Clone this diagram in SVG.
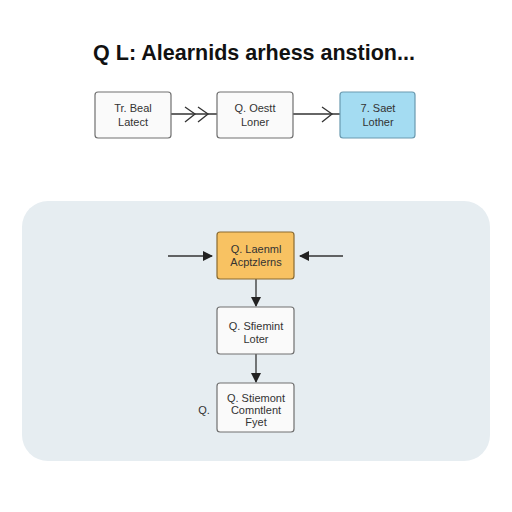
<svg xmlns="http://www.w3.org/2000/svg" width="512" height="512" viewBox="0 0 512 512">
<defs>
<style>
.t{font-family:"Liberation Sans",Arial,sans-serif;fill:#333;text-anchor:middle}
.n{font-size:11px}
.box{fill:#fafafa;stroke:#707070;stroke-width:1.2}
.c{stroke:#333;stroke-width:1.3;fill:none}
</style>
<marker id="ah" viewBox="0 0 10 10" refX="9" refY="5" markerWidth="10" markerHeight="10" markerUnits="userSpaceOnUse" orient="auto"><path d="M0,0 L10,5 L0,10 z" fill="#222"/></marker>
</defs>
<rect width="512" height="512" fill="#fff"/>
<text class="t" x="254" y="60" style="font-size:21.5px;font-weight:bold;fill:#111">Q L: Alearnids arhess anstion...</text>
<rect id="panel" x="22" y="201" width="468" height="260" rx="26" fill="#e6edf1"/>
<g id="connectors">
<line class="c" x1="171" y1="114" x2="217" y2="114"/>
<polyline class="c" points="185,107 195,114 185,122"/>
<polyline class="c" points="198,107 208,114 198,122"/>
<line class="c" x1="293" y1="114" x2="340" y2="114"/>
<polyline class="c" points="322,107 332,114 322,122"/>
<line class="c" x1="168" y1="256" x2="212" y2="256" marker-end="url(#ah)"/>
<line class="c" x1="343" y1="256" x2="300" y2="256" marker-end="url(#ah)"/>
<line class="c" x1="256" y1="279" x2="256" y2="306" marker-end="url(#ah)"/>
<line class="c" x1="256" y1="354" x2="256" y2="382" marker-end="url(#ah)"/>
</g>
<g id="n1"><rect class="box" x="95" y="92" width="76" height="46" rx="3"/><text class="t n" x="133" y="112">Tr. Beal</text><text class="t n" x="133" y="126">Latect</text></g>
<g id="n2"><rect class="box" x="217" y="92" width="76" height="46" rx="3"/><text class="t n" x="255" y="112">Q. Oestt</text><text class="t n" x="255" y="126">Loner</text></g>
<g id="n3"><rect x="340" y="92" width="75" height="46" rx="3" fill="#a4dcf2" stroke="#6a9ab0" stroke-width="1.2"/><text class="t n" x="378" y="112">7. Saet</text><text class="t n" x="378" y="126">Lother</text></g>
<g id="nA"><rect x="217" y="232" width="77" height="47" rx="3" fill="#f8c262" stroke="#8a6a30" stroke-width="1.2"/><text class="t n" x="256" y="253">Q. Laenml</text><text class="t n" x="256" y="266">Acptzlerns</text></g>
<g id="nB"><rect class="box" x="217" y="307" width="77" height="47" rx="3"/><text class="t n" x="256" y="330">Q. Sfiemint</text><text class="t n" x="256" y="343">Loter</text></g>
<g id="nC"><rect class="box" x="217" y="383" width="77" height="49" rx="3"/><text class="t n" x="256" y="402">Q. Stiemont</text><text class="t n" x="256" y="414">Comntlent</text><text class="t n" x="256" y="426">Fyet</text></g>
<text class="t n" x="204" y="414">Q.</text>
</svg>
